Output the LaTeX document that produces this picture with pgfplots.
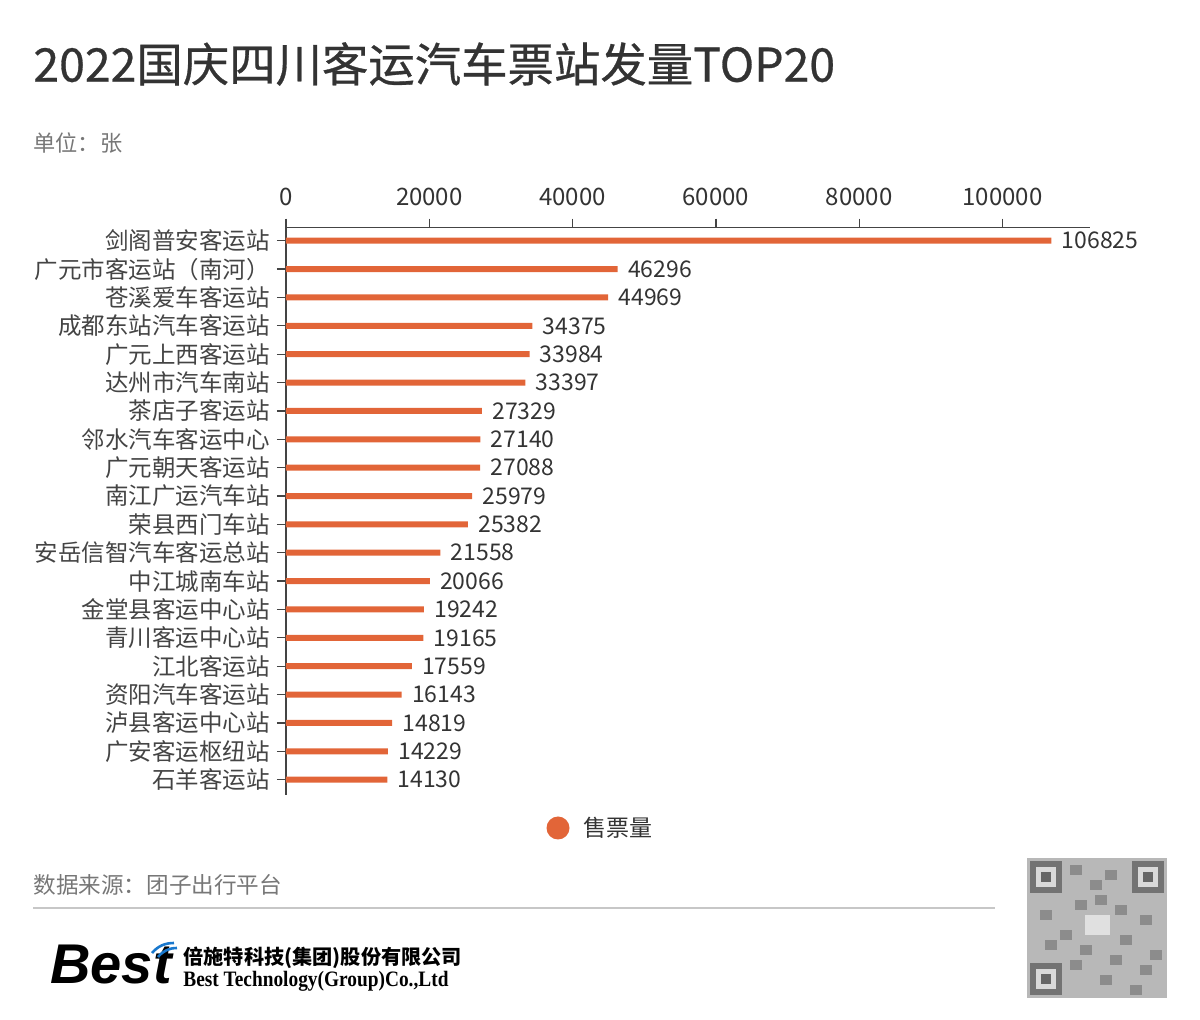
\documentclass[border=0pt]{standalone}
\usepackage{pgfplots}
\pgfplotsset{compat=1.18}
\usepackage{pgfplotstable}
\usepackage{fontspec}
\setmainfont{Noto Sans CJK SC}
\newfontfamily\titlefont{Noto Sans CJK SC}[FakeBold=0.6]
\newfontfamily\logofont{Liberation Sans}
\newfontfamily\serifen{Liberation Serif}
\definecolor{barc}{RGB}{226,101,56}
\definecolor{txt}{RGB}{51,51,51}
\definecolor{lab}{RGB}{68,68,68}
\definecolor{sub}{RGB}{119,119,119}
\definecolor{logoblue}{RGB}{25,120,205}

\pgfplotstableread{
y x
19 106825
18 46296
17 44969
16 34375
15 33984
14 33397
13 27329
12 27140
11 27088
10 25979
9 25382
8 21558
7 20066
6 19242
5 19165
4 17559
3 16143
2 14819
1 14229
0 14130
}\data

\begin{document}
\begin{tikzpicture}
\begin{scope}[x=0.5pt,y=-0.5pt]
\path (0,0) rectangle (1200,1020);
\node[anchor=west, font=\titlefont\fontsize{23.2}{26}\selectfont, text=txt, inner sep=0] at (33,64) {2022国庆四川客运汽车票站发量TOP20};
\node[anchor=west, font=\fontsize{11.1}{13}\selectfont, text=sub, inner sep=0] at (33,143) {单位：张};
% legend
\fill[barc] (558,828) circle (5.75pt);
\node[anchor=west, font=\fontsize{11.5}{13}\selectfont, text=txt, inner sep=0] at (583,828) {售票量};
% source
\node[anchor=west, font=\fontsize{11.3}{13}\selectfont, text=sub, inner sep=0] at (33,885) {数据来源：团子出行平台};
\draw[black!22, line width=1pt] (33,908) -- (995,908);
% logo
\node[anchor=base west, font=\logofont\bfseries\itshape\fontsize{28}{30}\selectfont, inner sep=0] at (50,984) {Best};
\draw[logoblue, line width=1.3pt] (152,953) .. controls (158,946) and (165,943) .. (174,943);
\draw[logoblue, line width=1.3pt] (158,957) .. controls (163,951) and (169,948) .. (177,948);
\node[anchor=west, font=\bfseries\fontsize{10.1}{12}\selectfont, inner sep=0] at (183,958) {倍施特科技(集团)股份有限公司};
\node[anchor=west, font=\serifen\bfseries\fontsize{11}{12}\selectfont, inner sep=0, xscale=0.88] at (183,981) {Best Technology(Group)Co.,Ltd};
% QR placeholder
\fill[black!28] (1027,858) rectangle (1167,998);
\foreach \a/\b in {1070/865,1090/880,1105/870,1075/900,1115/905,1040/910,1060/930,1120/935,1140/915,1150/950,1070/960,1100/975,1130/985,1080/945,1045/940,1110/955,1140/965,1095/895}
  \fill[black!45] (\a,\b) rectangle ++(12,10);
\fill[black!55] (1030,861) rectangle (1062,893);
\fill[black!15] (1036,867) rectangle (1056,887);
\fill[black!60] (1041,872) rectangle (1051,882);
\fill[black!55] (1132,861) rectangle (1164,893);
\fill[black!15] (1138,867) rectangle (1158,887);
\fill[black!60] (1143,872) rectangle (1153,882);
\fill[black!55] (1030,963) rectangle (1062,995);
\fill[black!15] (1036,969) rectangle (1056,989);
\fill[black!60] (1041,974) rectangle (1051,984);
\fill[black!12] (1085,915) rectangle (1110,935);
\end{scope}
\begin{axis}[
  at={(143pt,-113.85pt)}, anchor=north west,
  scale only axis, width=402pt, height=283.5pt,
  xbar, bar width=3pt,
  xmin=0, xmax=112200, ymin=-0.53, ymax=19.46,
  axis x line*=top, axis y line*=left,
  axis line style={lab, line width=0.65pt},
  every tick/.style={lab, line width=0.65pt},
  tick align=outside, major tick length=4.5pt,
  xtick={0,20000,40000,60000,80000,100000}, scaled x ticks=false,
  xticklabel={\pgfmathprintnumber[fixed,precision=0,1000 sep={},assume math mode=true]{\tick}},
  xticklabel style={font=\fontsize{12}{13}\selectfont, text=txt, yshift=3pt},
  ytick={0,...,19},
  yticklabels={石羊客运站,广安客运枢纽站,泸县客运中心站,资阳汽车客运站,江北客运站,青川客运中心站,金堂县客运中心站,中江城南车站,安岳信智汽车客运总站,荣县西门车站,南江广运汽车站,广元朝天客运站,邻水汽车客运中心,茶店子客运站,达州市汽车南站,广元上西客运站,成都东站汽车客运站,苍溪爱车客运站,广元市客运站（南河）,剑阁普安客运站},
  yticklabel style={font=\fontsize{11.75}{13}\selectfont, text=lab},
  clip=false,
  point meta=explicit symbolic,
  nodes near coords,
  every node near coord/.style={anchor=west, inner sep=0, xshift=5pt, font=\fontsize{11.5}{13}\selectfont, text=txt},
]
\addplot[fill=barc, draw=none] table[x=x, y=y, meta=x] {\data};
\end{axis}
\end{tikzpicture}
\end{document}
